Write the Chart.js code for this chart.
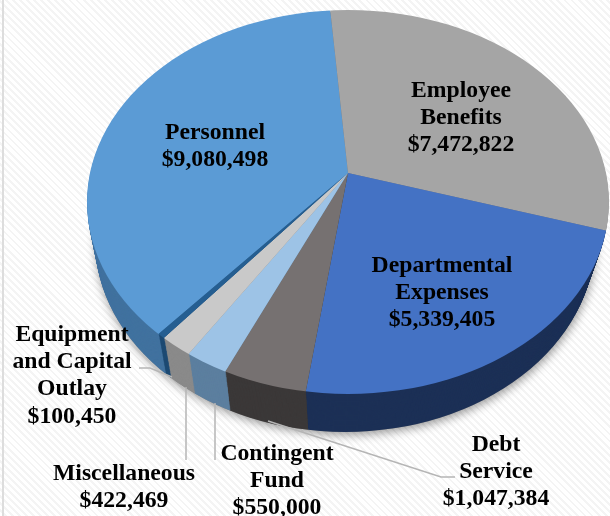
<!DOCTYPE html>
<html>
<head>
<meta charset="utf-8">
<style>
  html, body { margin: 0; padding: 0; width: 610px; height: 516px; overflow: hidden; }
  body {
    background: repeating-linear-gradient(45deg, #ffffff 0 3px, #f4f4f4 3px 5px);
  }
  #edge { position: absolute; left: 2px; top: 0; width: 2px; height: 516px; background: #dddddd; }
  #pie { position: absolute; left: 0; top: 0; }
</style>
<script src="https://cdn.jsdelivr.net/npm/chart.js@4/dist/chart.umd.min.js"></script>
</head>
<body>
<div id="edge"></div>
<canvas id="pie" width="610" height="516"></canvas>
<script>
const categories = ["Personnel", "Employee Benefits", "Departmental Expenses", "Debt Service",
    "Contingent Fund", "Miscellaneous", "Equipment and Capital Outlay"];
const amounts = [9080498, 7472822, 5339405, 1047384, 550000, 422469, 100450];
const topColors = ["#5b9bd5", "#a5a5a5", "#4472c4", "#767171", "#9dc3e6", "#c9c9c9", "#255e91"];
const wallColors = ["#41729f", "#787878", "#1c3056", "#3b3838", "#5c7f9f", "#8a8a8a", "#1d4a73"];
const labelLines = [
    ["Personnel"],
    ["Employee", "Benefits"],
    ["Departmental", "Expenses"],
    ["Debt", "Service"],
    ["Contingent", "Fund"],
    ["Miscellaneous"],
    ["Equipment", "and Capital", "Outlay"]
];
// centre x and first line y of every label, same order as categories
const labelX = [215, 461, 442, 496, 277, 124, 72];
const labelY = [133, 90.5, 265.5, 444.5, 453.5, 473.5, 334.5];
const lineGap = 27.3;

// the tilted pie: apex of the slices and the rim ellipse of the top and bottom face
const apex = { x: 348, y: 173 };
const tilt = 0.7;
const topRim = { x: 348, y: 202, rx: 261, ry: 192 };
const lowRim = { x: 345, y: 240, rx: 250, ry: 192 };
const depth = { dx: 1, dy: 45, shrink: 0.04 };

function money(v) {
    return "$" + v.toLocaleString("en-US");
}

function mix(a, b, t) {
    return a + (b - a) * t;
}

function rimPath(ctx, t) {
    ctx.beginPath();
    ctx.ellipse(mix(topRim.x, lowRim.x, t), mix(topRim.y, lowRim.y, t),
        mix(topRim.rx, lowRim.rx, t), mix(topRim.ry, lowRim.ry, t), 0, 0, Math.PI * 2);
}

function drawLayer(chart, t, colors) {
    const ctx = chart.ctx;
    const arcs = chart.getDatasetMeta(0).data;
    const s = 1 - depth.shrink * t;
    ctx.save();
    rimPath(ctx, t);
    ctx.clip();
    ctx.translate(apex.x + depth.dx * t, apex.y + depth.dy * t);
    ctx.scale(s, tilt * s);
    ctx.translate(-arcs[0].x, -arcs[0].y);
    arcs.forEach((arc, i) => {
        const keep = arc.options;
        arc.options = Object.assign({}, keep, { backgroundColor: colors[i] });
        arc.draw(ctx);
        arc.options = keep;
    });
    ctx.restore();
}

const tiltedPie = {
    id: "tiltedPie",
    beforeDatasetsDraw(chart) {
        const ctx = chart.ctx;
        // soft shadow under the pie
        ctx.save();
        ctx.shadowColor = "rgba(0,0,0,0.4)";
        ctx.shadowBlur = 10;
        ctx.shadowOffsetX = 1;
        ctx.shadowOffsetY = 3;
        ctx.fillStyle = "#888888";
        rimPath(ctx, 1);
        ctx.fill();
        ctx.restore();

        const steps = 40;
        for (let n = steps; n > 0; n--) {
            drawLayer(chart, n / steps, wallColors);
        }
        drawLayer(chart, 0, topColors);
        return false;
    }
};

const leaderLines = {
    id: "leaderLines",
    afterDraw(chart) {
        const ctx = chart.ctx;
        ctx.save();
        ctx.strokeStyle = "#b5b5b5";
        ctx.lineWidth = 1.5;
        ctx.beginPath();
        ctx.moveTo(139, 368);
        ctx.lineTo(150, 368);
        ctx.lineTo(172, 377);
        ctx.moveTo(186, 387);
        ctx.lineTo(186, 460);
        ctx.moveTo(215, 403);
        ctx.lineTo(215, 460);
        ctx.moveTo(268, 421);
        ctx.lineTo(441, 477);
        ctx.lineTo(455, 477);
        ctx.stroke();

        ctx.fillStyle = "#000000";
        ctx.font = "bold 23.7px 'Liberation Serif'";
        ctx.textAlign = "center";
        ctx.textBaseline = "middle";
        categories.forEach((name, i) => {
            const lines = labelLines[i].concat(money(amounts[i]));
            lines.forEach((line, j) => {
                ctx.fillText(line, labelX[i], labelY[i] + j * lineGap);
            });
        });
        ctx.restore();
    }
};

new Chart(document.getElementById("pie"), {
    type: "pie",
    data: {
        labels: categories,
        datasets: [{
            data: amounts,
            backgroundColor: topColors,
            borderWidth: 0,
            clip: false
        }]
    },
    options: {
        responsive: false,
        animation: false,
        rotation: 219.5,
        radius: 340,
        layout: { padding: 0 },
        plugins: {
            legend: { display: false },
            tooltip: { enabled: false },
            title: { display: false }
        }
    },
    plugins: [tiltedPie, leaderLines]
});
</script>
</body>
</html>
